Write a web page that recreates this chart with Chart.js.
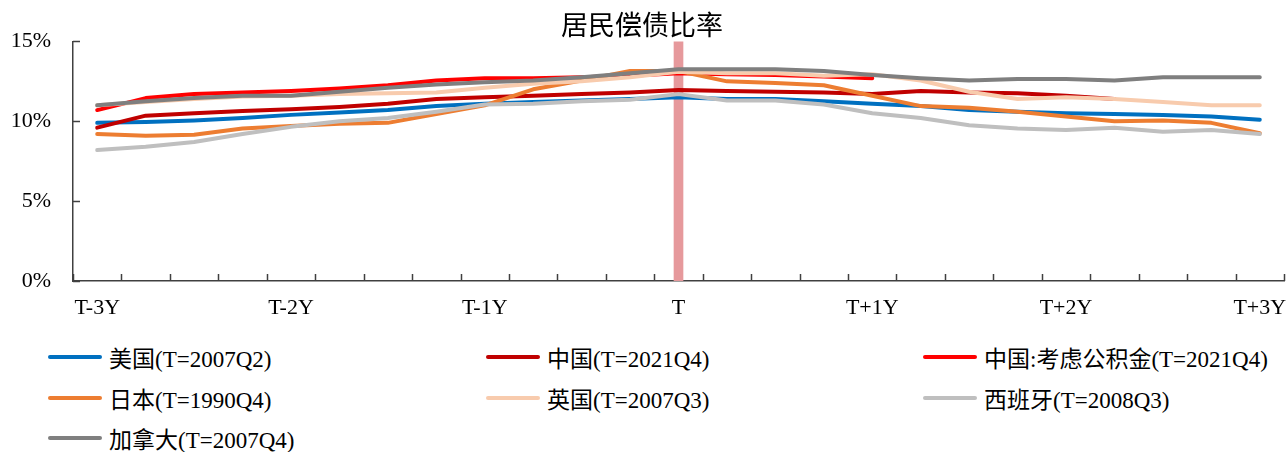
<!DOCTYPE html>
<html>
<head>
<meta charset="utf-8">
<script src="https://cdn.jsdelivr.net/npm/chart.js@4/dist/chart.umd.min.js"></script>
<style>
  body { margin: 0; background: #fff; }
  #wrap { position: relative; width: 1287px; height: 452px; overflow: hidden; }
  #grafico { position: absolute; left: 0; top: 0; }
  .item { position: absolute; height: 30px; display: flex; align-items: center;
          font-family: "Liberation Serif", "Noto Sans CJK SC", serif; font-size: 23px; color: #000; white-space: nowrap; }
  .muestra { display: inline-block; width: 54px; height: 4px; border-radius: 2px; margin-right: 7px; }
</style>
</head>
<body>
<div id="wrap">
  <canvas id="grafico" width="1287" height="330"></canvas>
  <div id="leyenda"></div>
</div>
<script>
/********************** Datos del gráfico ********************************************************************/

// 25 trimestres, de T-3Y a T+3Y
var trimestres = [];
for (var q = -12; q <= 12; q++) { trimestres.push(q); }
var etiquetasEje = ['T-3Y', 'T-2Y', 'T-1Y', 'T', 'T+1Y', 'T+2Y', 'T+3Y'];
var ticksY = [0, 5, 10, 15];

var nombres = ['美国(T=2007Q2)', '中国(T=2021Q4)', '中国:考虑公积金(T=2021Q4)', '日本(T=1990Q4)',
               '英国(T=2007Q3)', '西班牙(T=2008Q3)', '加拿大(T=2007Q4)'];
var colores = ['#0070C0', '#C00000', '#FF0000', '#ED7D31', '#F8CBAD', '#BFBFBF', '#7F7F7F'];

var usa     = [9.9, 9.95, 10.05, 10.2, 10.4, 10.55, 10.7, 10.95, 11.1, 11.2, 11.3, 11.4, 11.5, 11.4, 11.4, 11.25, 11.1, 10.95, 10.7, 10.6, 10.5, 10.45, 10.4, 10.3, 10.1];
var china   = [9.6, 10.35, 10.5, 10.65, 10.75, 10.9, 11.1, 11.4, 11.5, 11.6, 11.7, 11.8, 11.95, 11.9, 11.85, 11.8, 11.7, 11.9, 11.8, 11.75, 11.6, 11.4, null, null, null];
var chinaFondo = [10.7, 11.45, 11.7, 11.8, 11.9, 12.05, 12.25, 12.55, 12.7, 12.7, 12.75, 12.85, 13.0, 12.95, 12.9, 12.8, 12.7, null, null, null, null, null, null, null, null];
var japon   = [9.2, 9.1, 9.15, 9.55, 9.7, 9.85, 9.9, 10.45, 11.0, 12.0, 12.55, 13.15, 13.15, 12.5, 12.4, 12.25, 11.6, 10.95, 10.85, 10.6, 10.3, 10.0, 10.05, 9.9, 9.25];
var ingla   = [11.0, 11.2, 11.4, 11.55, 11.6, 11.7, 11.75, 11.8, 12.1, 12.35, 12.5, 12.75, 13.1, 13.0, 13.0, 12.85, 12.95, 12.55, 11.85, 11.4, 11.5, 11.4, 11.2, 11.0, 11.0];
var espana  = [8.2, 8.4, 8.7, 9.2, 9.65, 10.0, 10.2, 10.6, 11.05, 11.1, 11.25, 11.35, 11.7, 11.3, 11.3, 11.05, 10.5, 10.2, 9.75, 9.55, 9.45, 9.6, 9.35, 9.45, 9.2];
var canada  = [11.0, 11.25, 11.45, 11.6, 11.6, 11.85, 12.1, 12.3, 12.45, 12.55, 12.75, 13.0, 13.25, 13.25, 13.25, 13.15, 12.9, 12.7, 12.55, 12.65, 12.65, 12.55, 12.75, 12.75, 12.75];
var series = [usa, china, chinaFondo, japon, ingla, espana, canada];

// marca vertical en T
var indiceT = 12;
var valorMarca = 15;

/********************** Plugin: marcas de eje hacia adentro ********************************************************************/

var marcasAdentro = {
  id: 'marcasAdentro',
  afterDraw: function (chart) {
    var ctx = chart.ctx, a = chart.chartArea;
    var xs = chart.scales.x, ys = chart.scales.y;
    var paso = xs.getPixelForValue(1) - xs.getPixelForValue(0);
    ctx.save();
    ctx.strokeStyle = '#404040';
    ctx.lineWidth = 1.5;
    ctx.beginPath();
    for (var k = 0; k <= trimestres.length; k++) {
      var x = Math.round(xs.getPixelForValue(0) - paso / 2 + k * paso) + 0.5;
      ctx.moveTo(x, a.bottom);
      ctx.lineTo(x, a.bottom - 7);
    }
    ys.ticks.forEach(function (t) {
      var y = Math.round(ys.getPixelForValue(t.value)) + 0.5;
      ctx.moveTo(a.left, y);
      ctx.lineTo(a.left + 7, y);
    });
    ctx.stroke();
    ctx.restore();
  }
};

/********************** Definición del gráfico ********************************************************************/

var datasets = series.map(function (s, i) {
  return {
    type: 'line',
    label: nombres[i],
    data: s,
    borderColor: colores[i],
    backgroundColor: colores[i],
    borderWidth: 4,
    pointRadius: 0,
    tension: 0,
    borderJoinStyle: 'round',
    borderCapStyle: 'round',
    spanGaps: false,
    order: series.length - i
  };
});
datasets.push({
  type: 'bar',
  label: 'T',
  data: trimestres.map(function (q, i) { return i === indiceT ? valorMarca : null; }),
  backgroundColor: '#E6999C',
  barThickness: 9,
  order: 20
});

var fuente = "'Liberation Serif', 'Times New Roman', serif";

var config = {
  type: 'line',
  data: { labels: trimestres, datasets: datasets },
  plugins: [marcasAdentro],
  options: {
    responsive: false,
    animation: false,
    devicePixelRatio: 1,
    layout: { padding: { right: 3, left: 0, bottom: 0 } },
    plugins: {
      legend: { display: false },
      tooltip: { enabled: false },
      title: {
        display: true,
        text: '居民偿债比率',
        color: '#000',
        font: { family: "'Noto Sans CJK SC'", size: 27, weight: 'normal' },
        padding: { top: 9, bottom: 0 }
      }
    },
    scales: {
      x: {
        offset: true,
        grid: { display: false, drawTicks: false },
        border: { display: true, color: '#404040', width: 1.5 },
        ticks: {
          autoSkip: false,
          maxRotation: 0,
          padding: 14,
          color: '#000',
          font: { family: fuente, size: 22 },
          callback: function (v, i) { return i % 4 === 0 ? etiquetasEje[i / 4] : ''; }
        },
        afterFit: function (s) { s.height = 49; s.paddingLeft = 0; s.paddingRight = 0; }
      },
      y: {
        min: 0,
        max: 15,
        afterBuildTicks: function (s) { s.ticks = ticksY.map(function (v) { return { value: v }; }); },
        grid: { display: false, drawTicks: false },
        border: { display: true, color: '#404040', width: 1.5 },
        ticks: {
          padding: 22,
          color: '#000',
          font: { family: fuente, size: 22 },
          callback: function (v) { return v + '%'; }
        },
        afterFit: function (s) { s.width = 73; }
      }
    }
  }
};

var chart = new Chart(document.getElementById('grafico').getContext('2d'), config);

/********************** Leyenda en HTML ********************************************************************/

var columnasX = [48, 486, 923];
var filasY = [357, 398, 438];
var leyenda = document.getElementById('leyenda');
nombres.forEach(function (n, i) {
  var d = document.createElement('div');
  d.className = 'item';
  d.style.left = columnasX[i % 3] + 'px';
  d.style.top = (filasY[Math.floor(i / 3)] - 15) + 'px';
  d.innerHTML = '<span class="muestra" style="background:' + colores[i] + '"></span><span>' + n + '</span>';
  leyenda.appendChild(d);
});
</script>
</body>
</html>
